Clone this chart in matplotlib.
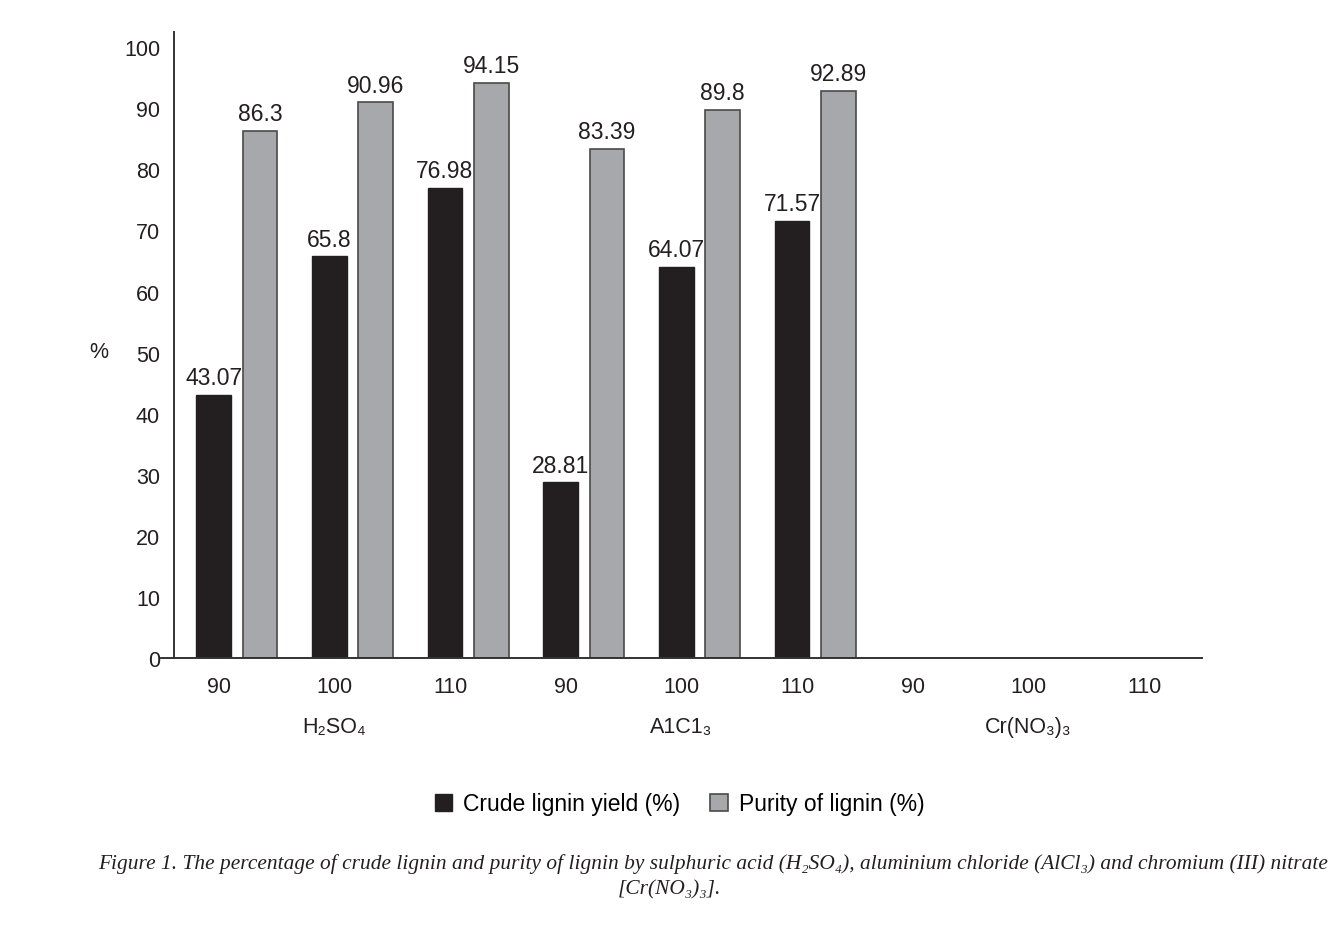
import numpy as np
import matplotlib
matplotlib.use("Agg")
import matplotlib.pyplot as plt

plt.rcParams['font.family'] = ['Liberation Sans', 'DejaVu Sans']

# data
temps = ['90', '100', '110', '90', '100', '110', '90', '100', '110']
acids = ['H\u2082SO\u2084', 'A1C1\u2083', 'Cr(NO\u2083)\u2083']
crude_yield = [43.07, 65.8, 76.98, 28.81, 64.07, 71.57, np.nan, np.nan, np.nan]
purity = [86.3, 90.96, 94.15, 83.39, 89.8, 92.89, np.nan, np.nan, np.nan]

BLACK = '#231f20'
GREY = '#a7a8ab'

fig = plt.figure(figsize=(13.38, 9.29), dpi=100)
ax = fig.add_axes([0.1203, 0.2906, 0.7781, 0.6739])

x = np.arange(len(temps))
w = 0.30
b1 = ax.bar(x - 0.045, crude_yield, w, color=BLACK, edgecolor=BLACK, linewidth=1,
            label='Crude lignin yield (%)')
b2 = ax.bar(x + 0.355, purity, w, color=GREY, edgecolor='#4a4a4a', linewidth=1.2,
            label='Purity of lignin (%)')

for bars, vals in [(b1, crude_yield), (b2, purity)]:
    for rect, v in zip(bars, vals):
        if np.isnan(v):
            continue
        ax.annotate(f'{v:g}', (rect.get_x() + rect.get_width() / 2, v),
                    xytext=(0, 4), textcoords='offset points',
                    ha='center', va='bottom', fontsize=16.5, color='#231f20')

ax.set_xlim(-0.5, len(temps) - 0.5)
ax.set_ylim(0, 102.5)
ax.set_yticks(np.arange(0, 101, 10))
ax.set_xticks(x)
ax.set_xticklabels(temps)
ax.tick_params(axis='both', length=0, labelsize=15.5, colors='#231f20')
ax.tick_params(axis='y', pad=10)
ax.tick_params(axis='x', pad=13)

ax.spines['top'].set_visible(False)
ax.spines['right'].set_visible(False)
ax.spines['left'].set_position(('data', -0.388))
for s in ['left', 'bottom']:
    ax.spines[s].set_color('#333333')
    ax.spines[s].set_linewidth(1.4)

ax.text(-0.06, 0.49, '%', transform=ax.transAxes, fontsize=15.5,
        ha='center', va='center', color='#231f20')

trans = matplotlib.transforms.blended_transform_factory(ax.transData, ax.transAxes)
for i, name in enumerate(acids):
    ax.text(3 * i + 1, -0.1086, name, transform=trans, ha='center', va='center',
            fontsize=15.5, color='#231f20')

fig.legend(handles=[b1, b2], loc='center', bbox_to_anchor=(0.508, 0.1335), ncol=2,
           frameon=False, fontsize=16.5, handlelength=0.75, handleheight=0.75,
           handletextpad=0.5, columnspacing=1.3)

cap_font = ['Liberation Serif', 'DejaVu Serif']
fig.text(0.533, 1 - 864 / 929,
         'Figure 1. The percentage of crude lignin and purity of lignin by sulphuric acid '
         '(H\u2082SO\u2084), aluminium chloride (AlCl\u2083) and chromium (III) nitrate',
         ha='center', va='center', fontsize=15.4, style='italic', family=cap_font,
         color='#231f20')
fig.text(0.5, 1 - 890 / 929, '[Cr(NO\u2083)\u2083].', ha='center', va='center',
         fontsize=15.4, style='italic', family=cap_font, color='#231f20')

fig.savefig('out.png', dpi=100)
